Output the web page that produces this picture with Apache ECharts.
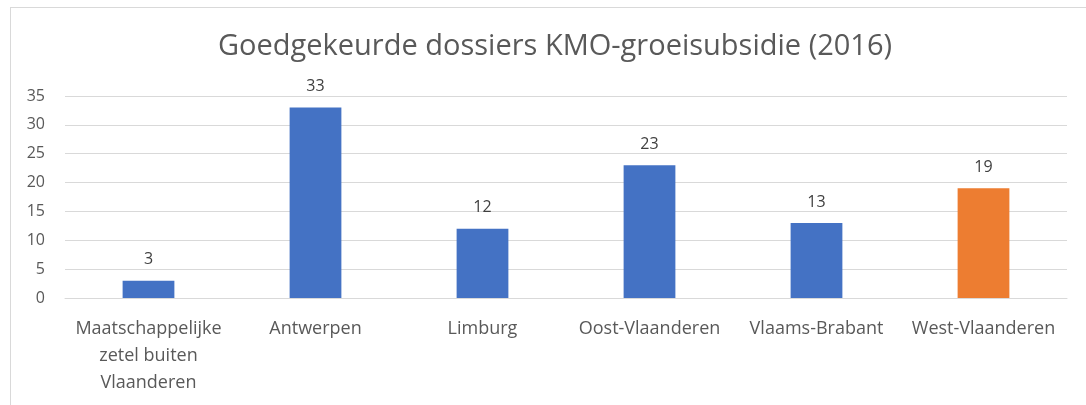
<!DOCTYPE html>
<html><head><meta charset="utf-8">
<script src="https://cdn.jsdelivr.net/npm/echarts@6/dist/echarts.min.js"></script>
<style>html,body{margin:0;padding:0;background:#fff}#c{width:1086px;height:405px}</style>
</head><body><div id="c"></div>
<script>
const categories = ["Maatschappelijke\nzetel buiten\nVlaanderen", "Antwerpen", "Limburg", "Oost-Vlaanderen", "Vlaams-Brabant", "West-Vlaanderen"];
const values = [3, 33, 12, 23, 13, 19];
const barColors = ["#4472C4", "#4472C4", "#4472C4", "#4472C4", "#4472C4", "#ED7D31"];
const titleText = "Goedgekeurde dossiers KMO-groeisubsidie (2016)";
const font = "'Open Sans', 'Noto Sans', sans-serif";
const chart = echarts.init(document.getElementById('c'), null, {renderer: 'canvas'});
chart.setOption({
  animation: false,
  backgroundColor: '#fff',
  title: {
    text: titleText, left: 550, top: 27, textAlign: 'center',
    textStyle: {fontFamily: font, fontSize: 29, fontWeight: 'normal', color: '#595959'}
  },
  graphic: [
    {type: 'line', shape: {x1: 10, y1: 7.5, x2: 1086, y2: 7.5}, style: {stroke: '#D9D9D9', lineWidth: 1}},
    {type: 'line', shape: {x1: 10.5, y1: 7, x2: 10.5, y2: 405}, style: {stroke: '#D9D9D9', lineWidth: 1}}
  ],
  grid: {left: 65, right: 19, top: 96, bottom: 107},
  xAxis: {
    type: 'category', data: categories,
    axisLine: {lineStyle: {color: '#D9D9D9'}},
    axisTick: {show: false},
    axisLabel: {fontFamily: font, fontSize: 18, color: '#595959', margin: 17, lineHeight: 27, interval: 0}
  },
  yAxis: {
    type: 'value', min: 0, max: 35, interval: 5,
    axisLine: {show: false}, axisTick: {show: false},
    splitLine: {lineStyle: {color: '#D9D9D9'}},
    axisLabel: {fontFamily: font, fontSize: 16, color: '#595959', margin: 20}
  },
  series: [{
    type: 'bar', barWidth: '31%',
    data: values.map((v, i) => ({value: v, itemStyle: {color: barColors[i]}})),
    label: {show: true, position: 'top', distance: 13, fontFamily: font, fontSize: 16, color: '#404040'}
  }]
});
</script></body></html>
